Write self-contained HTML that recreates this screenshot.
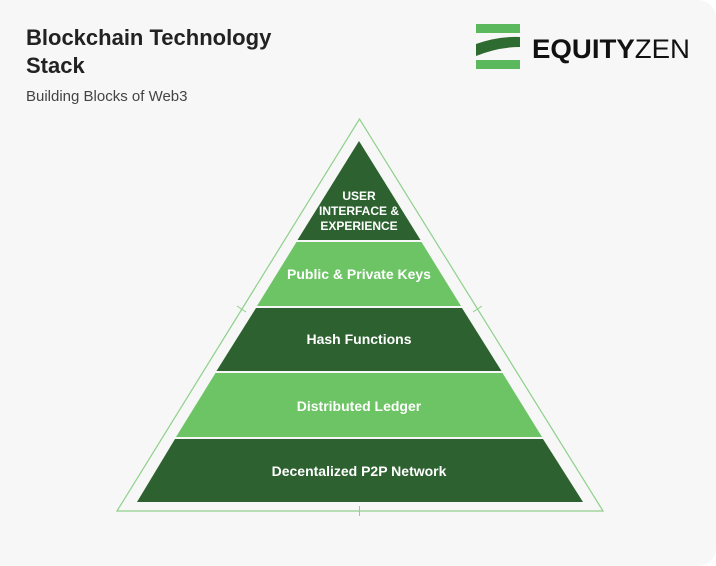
<!DOCTYPE html>
<html><head><style>
html,body{margin:0;padding:0;background:#fff;}
.card{position:absolute;left:0;top:0;width:716px;height:566px;background:#f6f7f6;border-radius:0 18px 18px 0;overflow:hidden;font-family:"Liberation Sans",sans-serif;}
.t{position:absolute;left:26px;top:24px;font-size:22px;font-weight:bold;color:#222;line-height:28px;}
.s{position:absolute;left:26px;top:88px;font-size:15px;color:#444;}
</style></head><body>
<div class="card">
<div class="t">Blockchain Technology<br>Stack</div>
<div class="s">Building Blocks of Web3</div>
<svg width="716" height="566" style="position:absolute;left:0;top:0">
<rect x="476" y="24" width="44" height="9" fill="#5cb85c"/>
<rect x="476" y="60" width="44" height="9" fill="#5cb85c"/>
<path d="M476 44 Q498 36 520 37 L520 47 Q498 47 476 56 Z" fill="#2e6b30"/>
<text x="532" y="58" font-family="Liberation Sans" font-size="27" font-weight="bold" fill="#111" textLength="158" lengthAdjust="spacingAndGlyphs">EQUITY<tspan font-weight="normal">ZEN</tspan></text>
<polygon points="359.5,119 117,511 603,511" fill="none" stroke="#8fd08a" stroke-width="1.2"/>
<line x1="359.5" y1="506" x2="359.5" y2="516" stroke="#8fd08a"/>
<line x1="237" y1="306" x2="246" y2="312" stroke="#8fd08a"/>
<line x1="473" y1="312" x2="482" y2="306" stroke="#8fd08a"/>
<polygon points="359,141 297.5,240 420.5,240" fill="#2d6130"/>
<polygon points="296.5,242 421.5,242 461,306 257,306" fill="#6cc464"/>
<polygon points="256,308 462,308 501.5,371 216.5,371" fill="#2d6130"/>
<polygon points="215.5,373 502.5,373 542,437 176,437" fill="#6cc464"/>
<polygon points="175,439 543,439 583,502 137,502" fill="#2d6130"/>
<g font-family="Liberation Sans" font-weight="bold" fill="#fff" text-anchor="middle" font-size="14">
<text x="359" y="200" font-size="12">USER</text>
<text x="359" y="215" font-size="12">INTERFACE &amp;</text>
<text x="359" y="230" font-size="12">EXPERIENCE</text>
<text x="359" y="279">Public &amp; Private Keys</text>
<text x="359" y="344">Hash Functions</text>
<text x="359" y="411">Distributed Ledger</text>
<text x="359" y="476">Decentalized P2P Network</text>
</g>
</svg>
</div>
</body></html>
